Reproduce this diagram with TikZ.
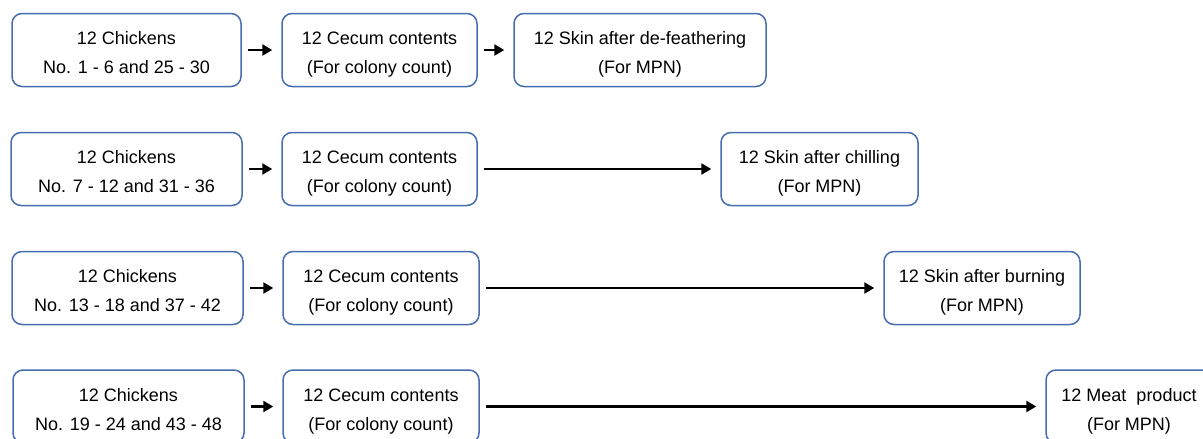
\documentclass[tikz,border=0pt]{standalone}
\usepackage{fontspec}
\setmainfont{Liberation Sans}
\usetikzlibrary{arrows.meta}
\definecolor{boxblue}{RGB}{70,110,175}
\newcommand{\twolines}[2]{\rule{0pt}{14pt}#1\\#2\rule[-5pt]{0pt}{5pt}}
\begin{document}
\begin{tikzpicture}[x=1pt,y=-1pt,
  box/.style={draw=boxblue,line width=1.5pt,rounded corners=10pt,minimum height=73pt,inner sep=0pt},
  txt/.style={align=center,font=\fontsize{18}{29}\selectfont,inner sep=0pt,yshift=-4.5pt},
  arr/.style={-{Triangle[length=10pt,width=11pt]},line width=2.8pt,shorten <=6pt,shorten >=9pt}]
\useasboundingbox (0,0) rectangle (1203,439);
% row 1
\node[box,minimum width=229pt,label={[txt]center:{\twolines{12 Chickens}{No. 1 - 6 and 25 - 30}}}] (a1) at (126.5,50) {};
\node[box,minimum width=195pt,label={[txt]center:{\twolines{12 Cecum contents}{(For colony count)}}}] (b1) at (379.5,50) {};
\node[box,minimum width=252pt,label={[txt]center:{\twolines{12 Skin after de-feathering}{(For MPN)}}}] (c1) at (640,50) {};
% row 2
\node[box,minimum width=231pt,label={[txt]center:{\twolines{12 Chickens}{No. 7 - 12 and 31 - 36}}}] (a2) at (126.5,169) {};
\node[box,minimum width=195pt,label={[txt]center:{\twolines{12 Cecum contents}{(For colony count)}}}] (b2) at (379.5,169) {};
\node[box,minimum width=197pt,label={[txt]center:{\twolines{12 Skin after chilling}{(For MPN)}}}] (c2) at (819.5,169) {};
% row 3
\node[box,minimum width=231pt,label={[txt]center:{\twolines{12 Chickens}{No. 13 - 18 and 37 - 42}}}] (a3) at (127.5,288) {};
\node[box,minimum width=196pt,label={[txt]center:{\twolines{12 Cecum contents}{(For colony count)}}}] (b3) at (381,288) {};
\node[box,minimum width=196pt,label={[txt]center:{\twolines{12 Skin after burning}{(For MPN)}}}] (c3) at (982,288) {};
% row 4
\node[box,minimum width=231pt,label={[txt]center:{\twolines{12 Chickens}{No. 19 - 24 and 43 - 48}}}] (a4) at (128.5,406.5) {};
\node[box,minimum width=196pt,label={[txt]center:{\twolines{12 Cecum contents}{(For colony count)}}}] (b4) at (381,406.5) {};
\node[box,minimum width=166pt,label={[txt]center:{\twolines{12 Meat\ \ product}{(For MPN)}}}] (c4) at (1129,406.5) {};
% arrows
\draw[arr] (a1.east) -- (b1.west);
\draw[arr] (b1.east) -- (c1.west);
\draw[arr] (a2.east) -- (b2.west);
\draw[arr] (b2.east) -- (c2.west);
\draw[arr] (a3.east) -- (b3.west);
\draw[arr] (b3.east) -- (c3.west);
\draw[arr] (a4.east) -- (b4.west);
\draw[arr] (b4.east) -- (c4.west);
\end{tikzpicture}
\end{document}
